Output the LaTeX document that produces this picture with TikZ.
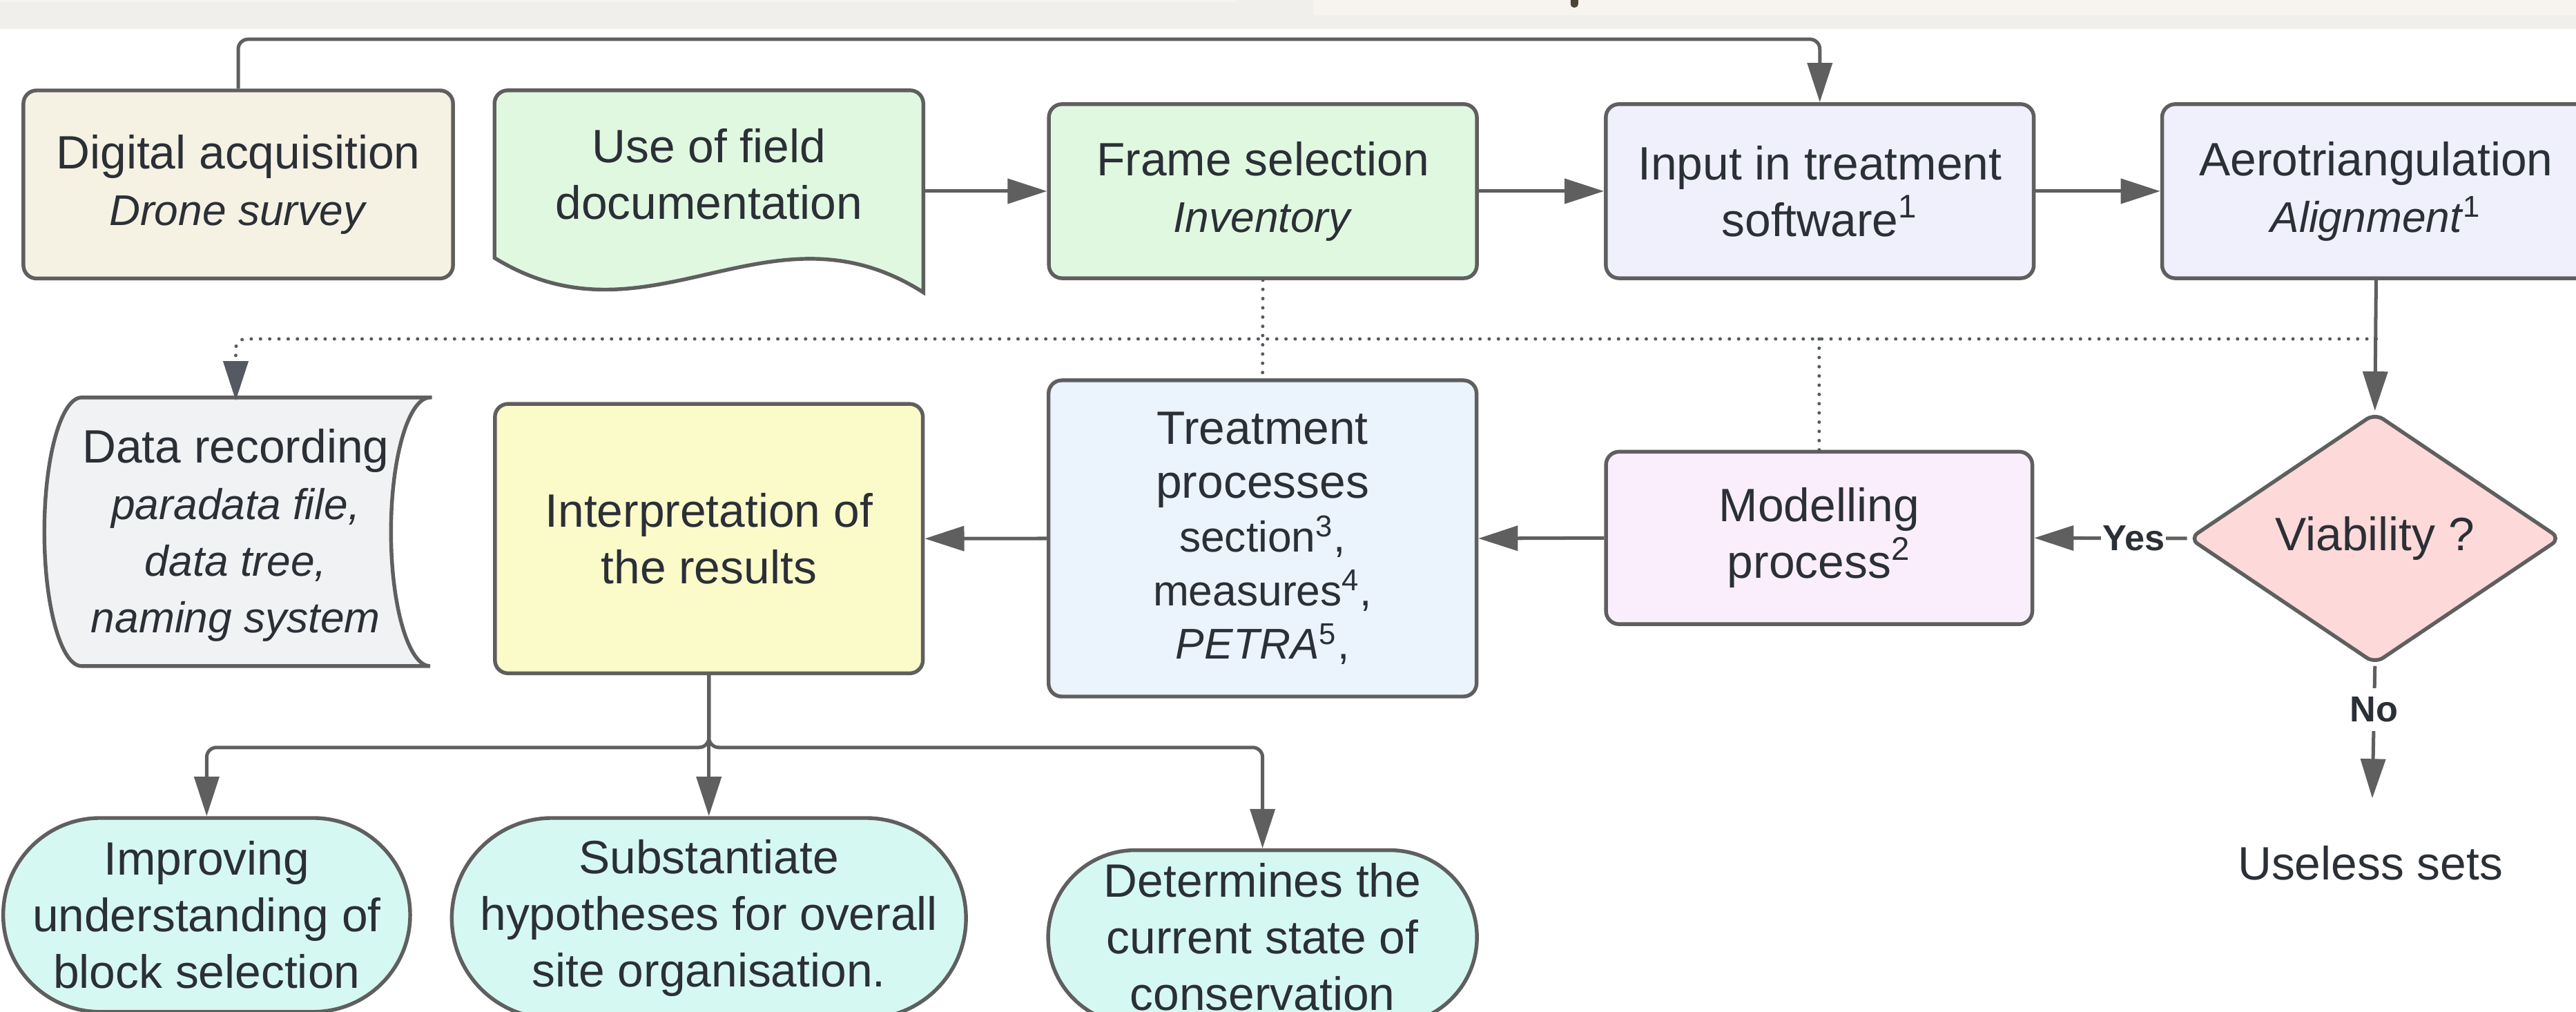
\documentclass[tikz,border=0pt]{standalone}
\usepackage{fontspec}
\setmainfont{Liberation Sans}
\usepackage{tikz}
\usetikzlibrary{arrows.meta, calc, shapes.geometric}
\definecolor{ink}{HTML}{2B2F36}
\definecolor{edge}{HTML}{5F5F5F}
\definecolor{dots}{HTML}{555A62}
\definecolor{creamfill}{HTML}{F5F2E3}
\definecolor{greenfill}{HTML}{E0F8E0}
\definecolor{lavfill}{HTML}{EFF0FC}
\definecolor{greyfill}{HTML}{F1F2F4}
\definecolor{yellowfill}{HTML}{FBFAC9}
\definecolor{bluefill}{HTML}{EBF3FD}
\definecolor{pinkfill}{HTML}{FAEEFC}
\definecolor{redfill}{HTML}{FDD9D9}
\definecolor{mintfill}{HTML}{D6F8F2}
\definecolor{bandgrey}{HTML}{F0EFEB}
\definecolor{bandlight}{HTML}{F7F3EF}
\definecolor{bandmark}{HTML}{4B4536}
\newcommand{\subfont}{\fontsize{14.9}{18.6}\selectfont}

\begin{document}
\begin{tikzpicture}[
  font=\fontsize{16.2}{19.6}\selectfont,
  box/.style={draw=edge, line width=1.3pt, rounded corners=0.16cm, align=center, text=ink, inner sep=2pt, minimum width=5.21cm, minimum height=2.12cm},
  plain/.style={align=center, text=ink, inner sep=0pt},
  ends/.style={draw=edge, line width=1.3pt, fill=mintfill, align=center, text=ink, inner sep=0pt},
  conn/.style={draw=edge, line width=1.2pt, -{Triangle[length=0.48cm, width=0.3cm]}},
  dotline/.style={draw=dots, line width=1.2pt, line cap=round, dash pattern=on 0pt off 3.2pt},
  lbl/.style={fill=white, text=ink, font=\bfseries\fontsize{12.5}{14}\selectfont, inner xsep=0.5pt, inner ysep=3pt}
]
\useasboundingbox (0,0) rectangle (31.36,12.32);
\fill[white] (0,0) rectangle (31.36,12.32);
\clip (0,0) rectangle (31.36,12.32);

\fill[bandgrey] (0,11.968) rectangle (31.36,12.32);
\fill[bandlight] (0,12.295) rectangle (15.06,12.32);
\fill[bandlight] (15.99,12.135) rectangle (31.36,12.32);
\fill[bandmark, rounded corners=0.04cm] (19.12,12.228) rectangle (19.212,12.4);

\draw[draw=edge, line width=1.3pt, fill=greenfill] (6.02,9.18) -- (6.02,11.06) arc[start angle=180, end angle=90, radius=0.16] -- (11.08,11.22) arc[start angle=90, end angle=0, radius=0.16] -- (11.24,8.76) .. controls (9.36,9.96) and (7.9,8.02) .. (6.02,9.18) -- cycle;
\draw[draw=edge, line width=1.3pt, fill=greyfill] (5.236,7.48) -- (0.994,7.48) arc[start angle=90, end angle=270, x radius=0.454, y radius=1.635] -- (5.236,4.21) arc[start angle=270, end angle=90, x radius=0.476, y radius=1.635] -- cycle;

\node[box, fill=creamfill, minimum width=5.23cm, minimum height=2.29cm] (acq) at (2.90,10.074) {Digital acquisition\\{\subfont\textit{Drone survey}}};
\node[plain, minimum width=5.22cm, minimum height=2.04cm] (doc) at (8.63,10.2) {Use of field\\documentation};
\node[box, fill=greenfill] (frame) at (15.374,9.992) {Frame selection\\{\subfont\textit{Inventory}}};
\node[box, fill=lavfill] (input) at (22.154,9.992) {Input in treatment\\software\textsuperscript{1}};
\node[box, fill=lavfill] (aero) at (28.926,9.992) {Aerotriangulation\\{\subfont\textit{Alignment}\textsuperscript{1}}};

\node[plain, minimum width=4.7cm, minimum height=3.27cm] (store) at (2.87,5.80) {Data recording\\{\subfont\textit{paradata file,}}\\{\subfont\textit{data tree,}}\\{\subfont\textit{naming system}}};
\node[box, fill=yellowfill, minimum height=3.28cm] (interp) at (8.63,5.762) {Interpretation of\\the results};
\node[box, fill=bluefill, minimum height=3.85cm, font=\fontsize{16.2}{18.6}\selectfont] (treat) at (15.37,5.764) {Treatment\\processes\\{\subfont section\textsuperscript{3},}\\{\subfont measures\textsuperscript{4},}\\{\subfont\textit{PETRA}\textsuperscript{5},}};
\node[box, fill=pinkfill, minimum width=5.19cm, minimum height=2.1cm] (model) at (22.146,5.77) {Modelling\\process\textsuperscript{2}};
\node[diamond, draw=edge, line width=1.3pt, fill=redfill, rounded corners=0.12cm, text=ink, minimum width=4.53cm, minimum height=3.06cm, inner sep=0pt] (viab) at (28.912,5.764) {Viability ?};

\node[plain] (useless) at (28.856,1.814) {Useless sets};
\coordinate (nosink) at (28.88,2.6);

\node[ends, minimum width=4.954cm, minimum height=2.36cm, rounded corners=1.18cm] (impr) at (2.516,1.18) {Improving\\understanding of\\block selection};
\node[ends, minimum width=6.26cm, minimum height=2.44cm, rounded corners=1.22cm] (subst) at (8.63,1.14) {Substantiate\\hypotheses for overall\\site organisation.};
\node[ends, minimum width=5.22cm, minimum height=2.12cm, rounded corners=1.06cm] (determ) at (15.37,0.908) {Determines the\\current state of\\conservation};

\draw[conn, rounded corners=0.12cm] (acq.north) -- ++(0,0.6) -| (input.north);
\draw[conn] (doc.east |- frame.west) -- (frame.west);
\draw[conn] (frame.east) -- (input.west);
\draw[conn] (input.east) -- (aero.west);
\draw[conn] (aero.south) -- (viab.north);
\coordinate (bus) at ($(aero.south)+(0,-0.716)$);
\draw[dotline, rounded corners=0.12cm, -{Triangle[length=0.48cm, width=0.3cm]}] (bus) -| (store.north);
\draw[dotline] (frame.south) -- (treat.north);
\draw[dotline] (model.north) -- (model.north |- bus);
\draw[conn] (treat.west) -- (interp.east);
\draw[conn] (model.west) -- (treat.east);
\draw[conn] (viab.west) -- node[lbl, pos=0.35]{Yes} (model.east);
\draw[conn] (viab.south) -- node[lbl, pos=0.33]{No} (nosink);
\draw[conn, rounded corners=0.12cm] (interp.south) -- ++(0,-0.88) -| (impr.north);
\draw[conn] (interp.south) -- (subst.north);
\draw[conn, rounded corners=0.12cm] (interp.south) -- ++(0,-0.88) -| (determ.north);
\end{tikzpicture}
\end{document}
